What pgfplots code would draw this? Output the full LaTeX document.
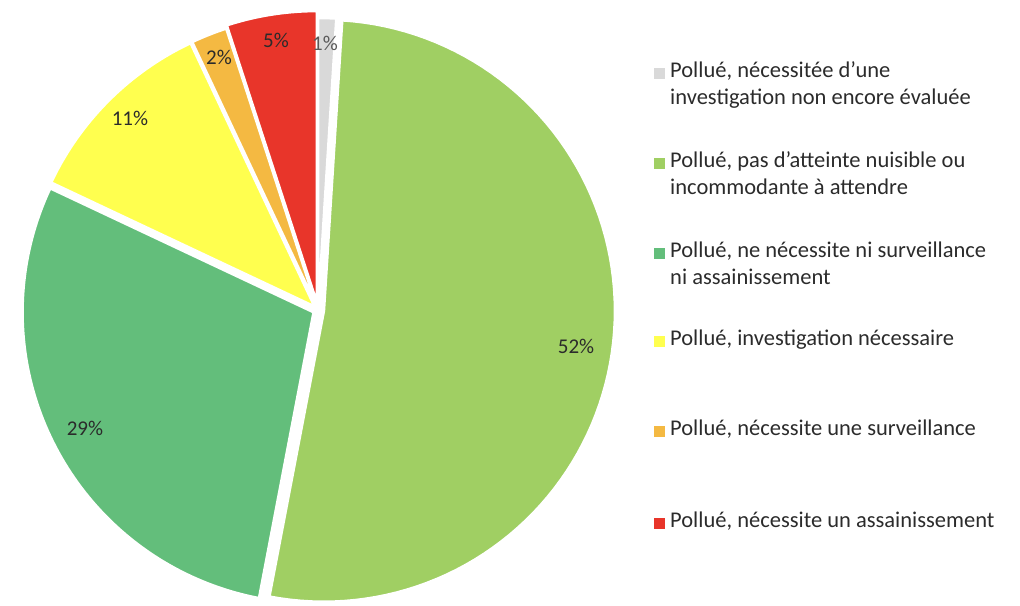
\documentclass[border=0pt]{standalone}
\usepackage{pgfplots}
\pgfplotsset{compat=1.18}
\usepackage{fontspec}
\setmainfont{Carlito}
\definecolor{cgray}{HTML}{D9D9D9}
\definecolor{clgreen}{HTML}{A0CF63}
\definecolor{cgreen}{HTML}{63BE7B}
\definecolor{cyellow}{HTML}{FFFF4F}
\definecolor{corange}{HTML}{F4B942}
\definecolor{cred}{HTML}{E8352A}
\definecolor{ctext}{HTML}{2B2B2B}

% #1 cumulative start (%), #2 value (%), #3 colour, #4 explode offset
\newcommand{\slice}[4]{%
  \pgfmathsetmacro\aS{90-3.6*(#1)}%
  \pgfmathsetmacro\aE{90-3.6*(#1+#2)}%
  \pgfmathsetmacro\aM{(\aS+\aE)/2}%
  \pgfmathsetmacro\cx{318+#4*cos(\aM)}%
  \pgfmathsetmacro\cy{295+#4*sin(\aM)}%
  \edef\doslice{\noexpand\addplot[fill=#3, draw=white, line width=2.5bp, line join=round, domain=\aE:\aS, samples=90, variable=\noexpand\t] ({\cx+291*cos(\noexpand\t)},{\cy+291*sin(\noexpand\t)}) -- (axis cs:\cx,\cy) -- cycle;}%
  \doslice
}
\newcommand{\legsq}[2]{\fill[#1] (axis cs:654,{605-#2-5}) rectangle (axis cs:665,{605-#2+6});}
\newcommand{\legtxt}[2]{\node[anchor=west, font=\fontsize{22.5bp}{27bp}\selectfont, text=ctext, text height=0.7em, text depth=0.2em, inner sep=0pt] at (axis cs:670,{605-#1}) {#2};}
\newcommand{\plab}[4]{\node[font=\fontsize{21bp}{25bp}\selectfont, text=#4, inner sep=0pt] at (axis cs:#1,{605-#2}) {#3};}

\begin{document}
\begin{tikzpicture}
\begin{axis}[scale only axis, width=1020bp, height=605bp,
  xmin=0, xmax=1020, ymin=0, ymax=605, hide axis, clip=false]
\path (axis cs:0,0) rectangle (axis cs:1020,605);
\slice{0}{1}{cgray}{1}
\slice{1}{52}{clgreen}{6}
\slice{53}{29}{cgreen}{5}
\slice{82}{11}{cyellow}{5}
\slice{93}{2}{corange}{5}
\slice{95}{5}{cred}{8}
% percentage labels
\plab{325}{43}{1\%}{black!65}
\plab{576}{346}{52\%}{ctext}
\plab{85}{428}{29\%}{ctext}
\plab{130}{118}{11\%}{ctext}
\plab{219}{57}{2\%}{ctext}
\plab{276}{40}{5\%}{ctext}
% legend
\legsq{cgray}{74}
\legtxt{75}{Pollué, nécessitée d’une}
\legtxt{102}{investigation non encore évaluée}
\legsq{clgreen}{164}
\legtxt{165}{Pollué, pas d’atteinte nuisible ou}
\legtxt{192}{incommodante à attendre}
\legsq{cgreen}{254}
\legtxt{255}{Pollué, ne nécessite ni surveillance}
\legtxt{282}{ni assainissement}
\legsq{cyellow}{342}
\legtxt{343}{Pollué, investigation nécessaire}
\legsq{corange}{432}
\legtxt{433}{Pollué, nécessite une surveillance}
\legsq{cred}{524}
\legtxt{525}{Pollué, nécessite un assainissement}
\end{axis}
\end{tikzpicture}
\end{document}
